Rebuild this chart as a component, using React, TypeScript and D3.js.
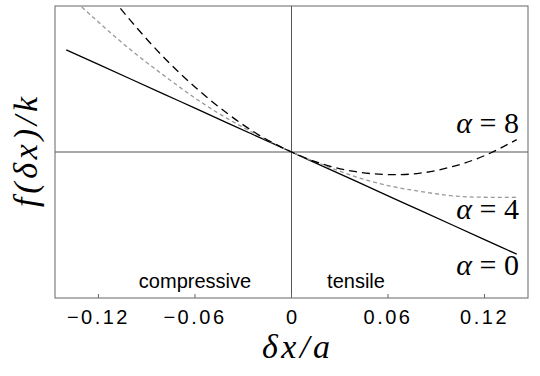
import * as d3 from "d3";

// values
const dx = [-0.14, -0.12, -0.1, -0.08, -0.06, -0.04, -0.02, 0, 0.02, 0.04, 0.06, 0.08, 0.1, 0.12, 0.14];
const alpha0 = [0.14, 0.12, 0.1, 0.08, 0.06, 0.04, 0.02, 0, -0.02, -0.04, -0.06, -0.08, -0.1, -0.12, -0.14];
const alpha4 = [0.218, 0.178, 0.14, 0.106, 0.074, 0.046, 0.022, 0, -0.018, -0.034, -0.046, -0.054, -0.06, -0.062, -0.062];
const alpha8 = [0.297, 0.235, 0.18, 0.131, 0.089, 0.053, 0.023, 0, -0.017, -0.027, -0.031, -0.029, -0.02, -0.005, 0.017];
const xTicks = [-0.12, -0.06, 0, 0.06, 0.12];
const xTickLabels = ["\u22120.12", "\u22120.06", "0", "0.06", "0.12"];

const W = 540;
const H = 376;
const left = 55;
const right = 528;
const top = 6;
const bottom = 298;

const mathStyle = { fontFamily: '"Times New Roman", Times, "Liberation Serif", "DejaVu Serif", serif' };
const sansStyle = { fontFamily: '"Liberation Sans", Arial, sans-serif' };

export default function App() {
  const x = d3.scaleLinear().domain([-0.147, 0.147]).range([left, right]);
  const y = d3.scaleLinear().domain([-0.2, 0.2]).range([bottom, top]);

  const line = d3
    .line<number>()
    .x((_, i) => x(dx[i]))
    .y((v) => y(v))
    .curve(d3.curveNatural);

  const series = [
    { values: alpha0, stroke: "#000", dash: "none" },
    { values: alpha4, stroke: "#999", dash: "4 3" },
    { values: alpha8, stroke: "#000", dash: "8 5" },
  ];

  return (
    <svg
      width={W}
      height={H}
      style={{ position: "absolute", left: 0, top: 0, background: "#fff" }}
    >
      <defs>
        <clipPath id="plot">
          <rect x={left} y={top} width={right - left} height={bottom - top} />
        </clipPath>
      </defs>

      {/* zero lines */}
      <line x1={x(0)} x2={x(0)} y1={top} y2={bottom} stroke="#555" strokeWidth={1} />
      <line x1={left} x2={right} y1={y(0)} y2={y(0)} stroke="#555" strokeWidth={1} />

      <g clipPath="url(#plot)">
        {series.map((s, i) => (
          <path
            key={i}
            d={line(s.values) ?? ""}
            fill="none"
            stroke={s.stroke}
            strokeWidth={1.3}
            strokeDasharray={s.dash}
          />
        ))}
      </g>

      {/* frame */}
      <rect
        x={left}
        y={top}
        width={right - left}
        height={bottom - top}
        fill="none"
        stroke="#666"
        strokeWidth={1}
      />

      {/* ticks */}
      {xTicks.map((t, i) => (
        <g key={t}>
          <line x1={x(t)} x2={x(t)} y1={bottom} y2={bottom - 4} stroke="#666" />
          <text
            x={x(t)}
            y={324}
            textAnchor="middle"
            style={sansStyle}
            fontSize={20}
            letterSpacing={t === 0 ? 0 : 2.5}
          >
            {xTickLabels[i]}
          </text>
        </g>
      ))}

      <text x={195} y={288} textAnchor="middle" style={sansStyle} fontSize={20}>
        compressive
      </text>
      <text x={356} y={288} textAnchor="middle" style={sansStyle} fontSize={20}>
        tensile
      </text>

      {/* series labels */}
      {[
        { v: "8", yy: 133 },
        { v: "4", yy: 219 },
        { v: "0", yy: 275 },
      ].map((d) => (
        <text key={d.v} x={519} y={d.yy} textAnchor="end" style={mathStyle} fontSize={30}>
          <tspan fontStyle="italic">α</tspan> = {d.v}
        </text>
      ))}

      {/* axis titles */}
      <text
        x={262}
        y={358}
        style={mathStyle}
        fontStyle="italic"
        fontSize={34}
        textLength={68}
        lengthAdjust="spacing"
      >
        δx/a
      </text>
      <text
        transform="translate(37, 152) rotate(-90)"
        textAnchor="middle"
        style={mathStyle}
        fontStyle="italic"
        fontSize={34}
        textLength={110}
        lengthAdjust="spacing"
      >
        f(δx)/k
      </text>
    </svg>
  );
}
